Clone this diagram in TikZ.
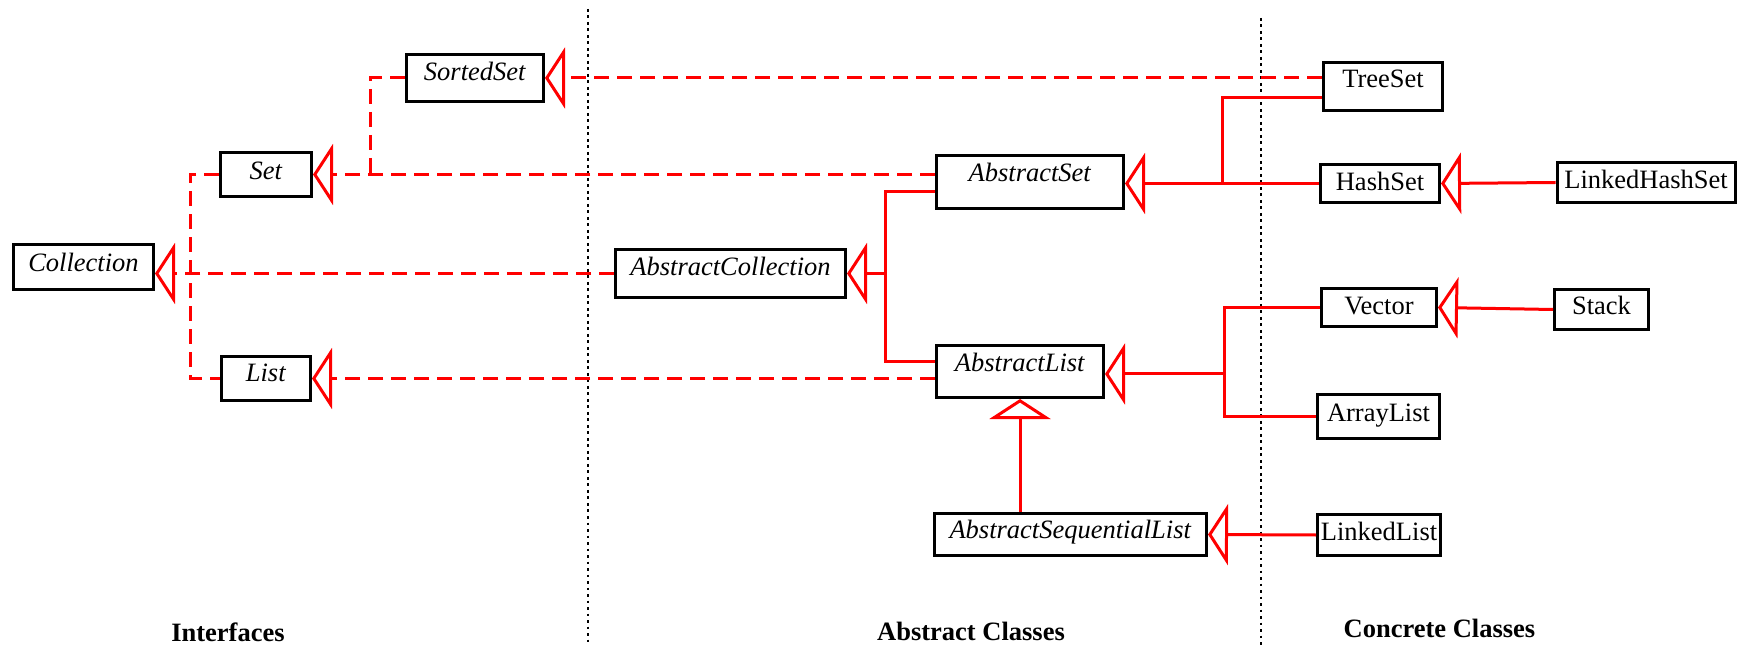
\documentclass[tikz,border=0pt]{standalone}
\usepackage{fontspec}
\setmainfont{Liberation Serif}
\usetikzlibrary{arrows.meta,calc}
\begin{document}
\begin{tikzpicture}[x=0.5pt,y=-0.5pt,
  every node/.style={font=\fontsize{13.25pt}{16pt}\selectfont},
  box/.style={draw=black, line width=1.5pt, inner sep=0pt, text height=9.3pt},
  iface/.style={draw=red, line width=1.5pt, dash pattern=on 7.5pt off 4pt},
  cls/.style={draw=red, line width=1.5pt},
  tri/.style={-{Triangle[open, length=10pt, width=30.5pt]}},
  dotline/.style={draw=black, line width=1.4pt, dash pattern=on 1.4pt off 1.85pt},
  lbl/.style={font=\fontsize{13.25pt}{16pt}\selectfont\bfseries, anchor=base, inner sep=0pt}]
\useasboundingbox (0,0) rectangle (1739,646);

% dividers
\draw[dotline] (588,9) -- (588,646);
\draw[dotline] (1261,18) -- (1261,646);

% interfaces
\node[box, minimum width=70pt, minimum height=22.5pt, text depth=5.1pt] (coll) at (83.5,267) {\textit{Collection}};
\node[box, minimum width=45.5pt, minimum height=22pt, text depth=4.6pt] (set) at (266,174.5) {\textit{Set}};
\node[box, minimum width=68.5pt, minimum height=23.5pt, text depth=6.6pt] (sorted) at (475,78) {\textit{SortedSet}};
\node[box, minimum width=44.5pt, minimum height=22pt, text depth=6.1pt] (list) at (266,378.5) {\textit{List}};

% abstract classes
\node[box, minimum width=115pt, minimum height=24pt, text depth=7.1pt] (acoll) at (730.5,273.5) {\textit{AbstractCollection}};
\node[box, minimum width=93.5pt, minimum height=26.5pt, text depth=9.6pt] (aset) at (1030,182) {\textit{AbstractSet}};
\node[box, minimum width=83.5pt, minimum height=26pt, text depth=9.1pt] (alist) at (1020,371.5) {\textit{AbstractList}};
\node[box, minimum width=136pt, minimum height=21pt, text depth=5.1pt] (asl) at (1070.5,534.5) {\textit{AbstractSequentialList}};

% concrete classes
\node[box, minimum width=59.5pt, minimum height=24pt, text depth=8.1pt] (treeset) at (1383,86.5) {TreeSet};
\node[box, minimum width=59.5pt, minimum height=19pt, text depth=2.6pt] (hashset) at (1380,183.5) {HashSet};
\node[box, minimum width=89pt, minimum height=20pt, text depth=3.1pt] (lhs) at (1646,182.5) {LinkedHashSet};
\node[box, minimum width=57.5pt, minimum height=19pt, text depth=2.6pt] (vector) at (1379,307.5) {Vector};
\node[box, minimum width=47pt, minimum height=20pt, text depth=4.1pt] (stack) at (1601.5,309.5) {Stack};
\node[box, minimum width=61pt, minimum height=22pt, text depth=4.6pt] (arraylist) at (1378.5,416.5) {ArrayList};
\node[box, minimum width=61.5pt, minimum height=20.5pt, text depth=4.1pt] (linkedlist) at (1379,535) {LinkedList};

% junctions
\coordinate (j1) at (370,174.5);
\coordinate (cx) at (190,273.5);
\coordinate (j3) at (885,273.5);
\coordinate (j4) at (1222,183.5);
\coordinate (j5) at (1224,374);

% interface realizations (dashed)
\draw[iface] (sorted.west) -| (j1);
\draw[iface, tri] (aset.west |- set.east) -- (set.east);
\draw[iface, tri] (treeset.west |- sorted.east) -- (sorted.east);
\draw[iface] (set.west) -| (cx) |- (list.west);
\draw[iface, tri] (acoll.west) -- (acoll.west -| coll.east);
\draw[iface, tri] (alist.west |- list.east) -- (list.east);

% class inheritance (solid)
\draw[cls] ($(aset.west)+(0,10)$) -| (j3) |- ($(alist.west)+(0,-10)$);
\draw[cls, tri] (j3) -- (acoll.east);
\draw[cls] ($(treeset.west)+(0,11)$) -| (j4);
\draw[cls, tri] (hashset.west) -- (hashset.west -| aset.east);
\draw[cls, tri] (lhs.west) -- (hashset.east);
\draw[cls] (vector.west) -| (j5) |- (arraylist.west);
\draw[cls, tri] (j5) -- (j5 -| alist.east);
\draw[cls, tri] (stack.west) -- (vector.east);
\draw[cls, tri] (asl.north -| alist.south) -- (alist.south);
\draw[cls, tri] (linkedlist.west) -- (asl.east);

% column labels
\node[lbl] (lint) at (228,641) {Interfaces};
\node[lbl] (labs) at (971,640) {Abstract Classes};
\node[lbl] (lcon) at (1439.5,637) {Concrete Classes};
\end{tikzpicture}
\end{document}
